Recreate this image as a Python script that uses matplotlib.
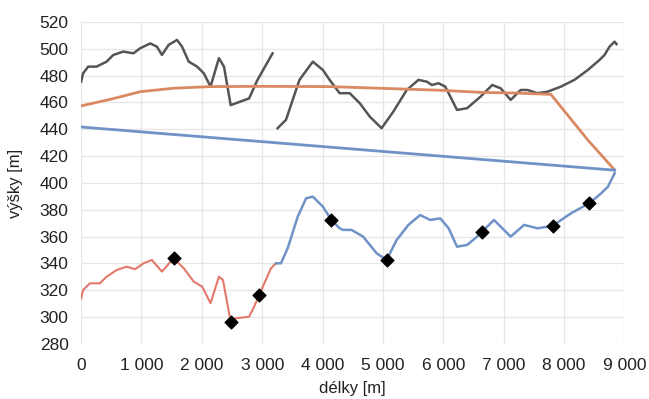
import matplotlib.pyplot as plt

# tick labels
x_ticks = [0, 1000, 2000, 3000, 4000, 5000, 6000, 7000, 8000, 9000]
x_tick_labels = ['0', '1 000', '2 000', '3 000', '4 000', '5 000', '6 000', '7 000', '8 000', '9 000']
y_ticks = [280, 300, 320, 340, 360, 380, 400, 420, 440, 460, 480, 500, 520]

# gray terrain line, two pieces
gray1_x = [0, 33, 117, 255, 422, 533, 700, 867, 978, 1145, 1255, 1339, 1450, 1589, 1672,
           1783, 1922, 2033, 2144, 2283, 2367, 2478, 2783, 2922, 3172]
gray1_y = [475.5, 481.7, 486.7, 486.7, 490.4, 495.4, 497.9, 496.6, 500.4, 504, 501.6, 495.4,
           502.9, 506.6, 501.6, 490.4, 486.7, 481.7, 471.8, 493, 486.7, 458, 463, 476.8, 496.6]
gray2_x = [3255, 3394, 3617, 3839, 4006, 4117, 4283, 4450, 4617, 4783, 4978, 5172, 5395,
           5589, 5728, 5811, 5922, 6033, 6144, 6228, 6395, 6617, 6811, 6950, 7117, 7283,
           7395, 7561, 7728, 7950, 8172, 8395, 8589, 8672, 8755, 8839, 8870]
gray2_y = [440.8, 447, 476.8, 490.4, 484.2, 476.8, 466.9, 466.9, 459.4, 449.4, 440.8, 453.1,
           469.3, 476.8, 475.5, 473, 474.3, 471.8, 461.9, 454.4, 455.7, 464.3, 473, 470.6,
           461.9, 469.3, 469.3, 466.9, 468, 471.8, 476.8, 484.2, 491.7, 495.4, 501.6, 505.3,
           503.5]

# orange line
orange_x = [0, 500, 978, 1533, 2144, 3000, 4117, 5000, 6000, 6617, 7200, 7783, 8395, 8839]
orange_y = [457.4, 462.5, 468, 470.6, 471.8, 472, 471.8, 470.5, 469, 467.5, 467, 466, 432, 409.7]

# blue upper line
blue_top_x = [0, 8839]
blue_top_y = [441.7, 409.5]

# bottom profile, red part then blue part
red_x = [0, 33, 145, 311, 422, 589, 755, 894, 1033, 1172, 1339, 1533, 1700, 1867, 2006,
         2144, 2283, 2350, 2478, 2561, 2783, 2867, 2950, 3145, 3228]
red_y = [314.0, 320.2, 325.2, 325.2, 330.1, 335.1, 337.6, 335.7, 340.1, 342.6, 333.9, 343.9,
         336.4, 326.4, 322.7, 310.3, 330.1, 327.7, 296.6, 299.1, 300.3, 307.8, 316.5, 336.4,
         340.1]
blue_x = [3228, 3311, 3422, 3589, 3728, 3839, 4006, 4145, 4283, 4339, 4478, 4672, 4895, 5061,
          5228, 5422, 5617, 5783, 5950, 6089, 6228, 6395, 6561, 6645, 6839, 6978, 7117, 7339,
          7561, 7811, 8117, 8422, 8617, 8728, 8839]
blue_y = [340.1, 340.1, 351.3, 374.9, 388.6, 389.8, 382.3, 372.4, 366.2, 365, 365, 360, 347.6,
          342.6, 357.5, 368.7, 376.1, 372.4, 373.6, 366.2, 352.5, 353.8, 360, 363.7, 372.4,
          366.2, 360, 368.7, 366.2, 368, 377.4, 384.9, 392.3, 397.2, 407.2]

# black markers
mark_x = [1533, 2478, 2950, 4145, 5061, 6645, 7811, 8422]
mark_y = [343.9, 296.6, 316.5, 372.4, 342.6, 363.7, 368, 384.9]

plt.rcParams['font.family'] = ['Liberation Sans', 'DejaVu Sans']

fig = plt.figure(figsize=(6.49, 3.99), dpi=100)
ax = fig.add_axes([0.125, 0.138, 0.837, 0.807])

ax.plot(gray1_x, gray1_y, color='#555555', lw=1.8, solid_joinstyle='round')
ax.plot(gray2_x, gray2_y, color='#555555', lw=1.8, solid_joinstyle='round')
ax.plot(orange_x, orange_y, color='#d98a62', lw=2)
ax.plot(blue_top_x, blue_top_y, color='#6f93c6', lw=2)
ax.plot(red_x, red_y, color='#e3786b', lw=1.5)
ax.plot(blue_x, blue_y, color='#6f93c6', lw=1.8)
ax.scatter(mark_x, mark_y, color='black', s=42, marker='D', zorder=5)

ax.set_xlim(0, 9000)
ax.set_ylim(280, 520)
ax.set_xticks(x_ticks)
ax.set_xticklabels(x_tick_labels)
ax.set_yticks(y_ticks)
ax.tick_params(length=0, labelsize=12.5, colors='#222222')
ax.tick_params(axis='x', pad=10)
ax.tick_params(axis='y', pad=9)
ax.grid(True, color='#e6e6e6', lw=0.9)
ax.set_axisbelow(True)
for s in ax.spines.values():
    s.set_visible(False)

ax.set_xlabel('délky [m]', fontsize=12, color='#222222', labelpad=6)
ax.set_ylabel('výšky [m]', fontsize=12, color='#222222', labelpad=12)

fig.savefig('out.png', dpi=100)
